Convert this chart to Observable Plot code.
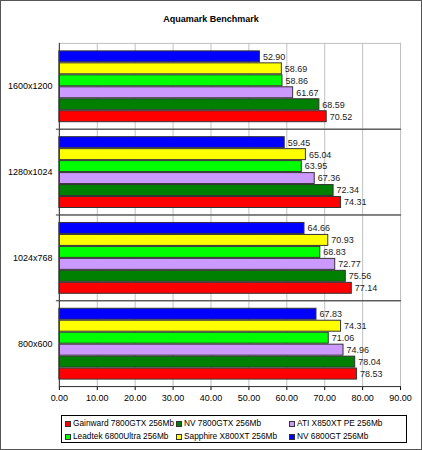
<!DOCTYPE html>
<html>
<head>
<meta charset="utf-8">
<script src="https://cdn.jsdelivr.net/npm/d3@7"></script>
<script src="https://cdn.jsdelivr.net/npm/@observablehq/plot@0.6"></script>
<style>
  html, body { margin: 0; padding: 0; background: #fff; }
  #chart { position: relative; width: 422px; height: 450px; box-sizing: border-box; border: 1px solid #555; background: #fff; overflow: hidden; font-family: "Liberation Sans", Arial, sans-serif; }
  #title { position: absolute; left: -1px; width: 422px; top: 13px; text-align: center; font-weight: bold; font-size: 9px; line-height: 11px; color: #000; }
  #plot { position: absolute; left: -1px; top: -1px; }
  #legend { position: absolute; left: 60px; top: 414px; width: 346px; height: 28px; border: 1px solid #000; box-sizing: border-box; font-size: 8.3px; color: #000; }
  .item { position: absolute; display: flex; align-items: center; line-height: 11px; white-space: nowrap; }
  .sw { width: 4px; height: 4px; border: 1px solid #333; margin-right: 2px; }
</style>
</head>
<body>
<div id="chart">
  <div id="plot"></div>
  <div id="title">Aquamark Benchmark</div>
  <div id="legend"></div>
</div>
<script>
// ---- data ----
const resolutions = ["1600x1200", "1280x1024", "1024x768", "800x600"];
const seriesNames = [
  "Gainward 7800GTX 256Mb",
  "NV 7800GTX 256Mb",
  "ATI X850XT PE 256Mb",
  "Leadtek 6800Ultra 256Mb",
  "Sapphire X800XT 256Mb",
  "NV 6800GT 256Mb"
];
const seriesColors = ["#FF0000", "#008000", "#CC99FF", "#00FF00", "#FFFF00", "#0000FF"];
const gainward = [70.52, 74.31, 77.14, 78.53];
const nv7800 = [68.59, 72.34, 75.56, 78.04];
const ati = [61.67, 67.36, 72.77, 74.96];
const leadtek = [58.86, 63.95, 68.83, 71.06];
const sapphire = [58.69, 65.04, 70.93, 74.31];
const nv6800 = [52.90, 59.45, 64.66, 67.83];
const seriesValues = [gainward, nv7800, ati, leadtek, sapphire, nv6800];
const xTicks = [0, 10, 20, 30, 40, 50, 60, 70, 80, 90];

const data = resolutions.flatMap((r, i) =>
  seriesNames.map((s, j) => ({res: r, series: s, value: seriesValues[j][i]}))
);

const dark = "#333";
const chart = Plot.plot({
  width: 422,
  height: 410,
  marginTop: 43,
  marginBottom: 23,
  marginLeft: 59,
  marginRight: 21,
  style: {fontFamily: "'Liberation Sans', Arial, sans-serif", fontSize: "9px", background: "transparent", color: "#000", overflow: "visible"},
  x: {domain: [0, 90], ticks: xTicks, tickFormat: d3.format(".2f"), tickSize: 4, tickPadding: 4, label: null},
  y: {domain: [...seriesNames].reverse(), paddingInner: 0.12, paddingOuter: 0.4, axis: null},
  fy: {domain: resolutions, padding: 0, label: null, tickSize: 0, tickPadding: 7, axis: "left"},
  color: {domain: seriesNames, range: seriesColors},
  marks: [
    Plot.gridX(xTicks, {stroke: "#c0c0c0", strokeOpacity: 1}),
    Plot.frame({stroke: "#c0c0c0"}),
    Plot.barX(data, {x: "value", y: "series", fy: "res", fill: "series", stroke: dark, strokeWidth: 1}),
    Plot.text(data, {x: "value", y: "series", fy: "res", text: d => d.value.toFixed(2), textAnchor: "start", dx: 3, fill: "#222"}),
    ...resolutions.slice(1).map(r => Plot.frame({anchor: "top", stroke: dark, insetLeft: -3, fy: () => r})),
    Plot.frame({anchor: "bottom", stroke: dark, fy: () => resolutions[resolutions.length - 1]}),
    Plot.ruleX([0], {stroke: dark})
  ]
});
document.getElementById("plot").appendChild(chart);

// ---- legend ----
const legend = document.getElementById("legend");
const colX = [3, 114, 227];
seriesNames.forEach((s, i) => {
  const item = document.createElement("div");
  item.className = "item";
  item.style.left = colX[i % 3] + "px";
  item.style.top = (i < 3 ? 2 : 15) + "px";
  const sw = document.createElement("span");
  sw.className = "sw";
  sw.style.background = seriesColors[i];
  const t = document.createElement("span");
  t.textContent = s;
  item.appendChild(sw);
  item.appendChild(t);
  legend.appendChild(item);
});
</script>
</body>
</html>
